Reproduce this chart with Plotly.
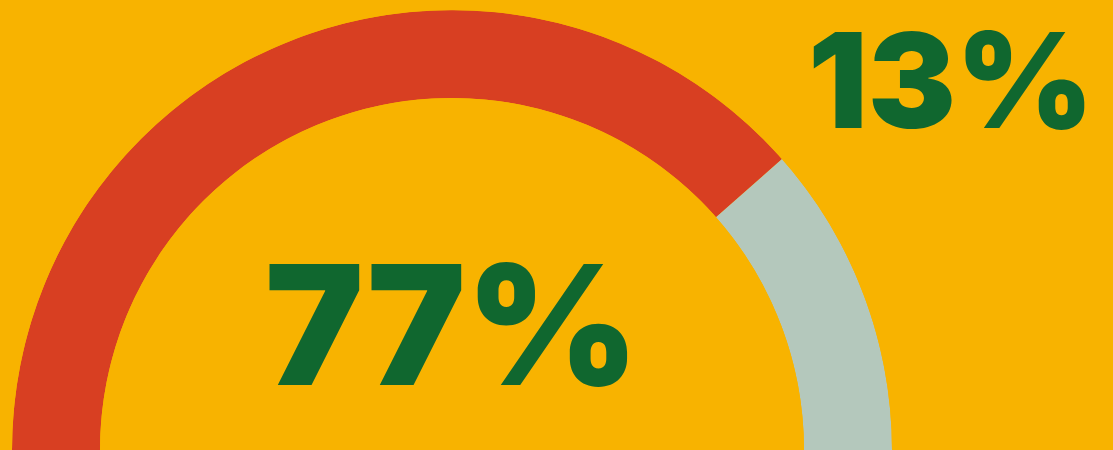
import plotly.graph_objects as go

# Gauge shares (percent of the half circle)
segments = ["Yes", "Rest"]
shares = [77, 23]
seg_colors = ["#D83F22", "#B4C8BC"]

main_label = "77%"
side_label = "13%"

BG = "#F8B300"
GREEN = "#10672F"

W, H = 1113, 450

# angular positions of each bar, in degrees of a 180 degree sector
widths = [s / 100 * 180 for s in shares]
centers = []
start = 0
for w in widths:
    centers.append(start + w / 2)
    start += w

fig = go.Figure()
fig.add_trace(go.Barpolar(
    r=[1] * len(shares),
    theta=centers,
    width=widths,
    marker=dict(color=seg_colors, line=dict(width=0)),
    text=segments,
    hoverinfo="text",
    showlegend=False,
))

cx, r_out = 452, 440
fig.update_layout(
    width=W, height=H,
    margin=dict(l=0, r=0, t=0, b=0),
    paper_bgcolor=BG,
    plot_bgcolor=BG,
    polar=dict(
        domain=dict(x=[(cx - r_out) / W, (cx + r_out) / W], y=[0, r_out / H]),
        sector=[0, 180],
        hole=0.80,
        bgcolor="rgba(0,0,0,0)",
        radialaxis=dict(range=[0, 1], visible=False, showgrid=False),
        angularaxis=dict(visible=False, showgrid=False, direction="clockwise",
                         rotation=180),
    ),
    annotations=[
        dict(text=main_label, x=cx / W, y=1 - 324 / H, xref="paper", yref="paper",
             showarrow=False, xanchor="center", yanchor="middle",
             font=dict(family="Inter", size=166, color=GREEN, weight=900)),
        dict(text=side_label, x=951 / W, y=1 - 80 / H, xref="paper", yref="paper",
             showarrow=False, xanchor="center", yanchor="middle",
             font=dict(family="Inter", size=132, color=GREEN, weight=900)),
    ],
)

fig.write_html("out.html")
